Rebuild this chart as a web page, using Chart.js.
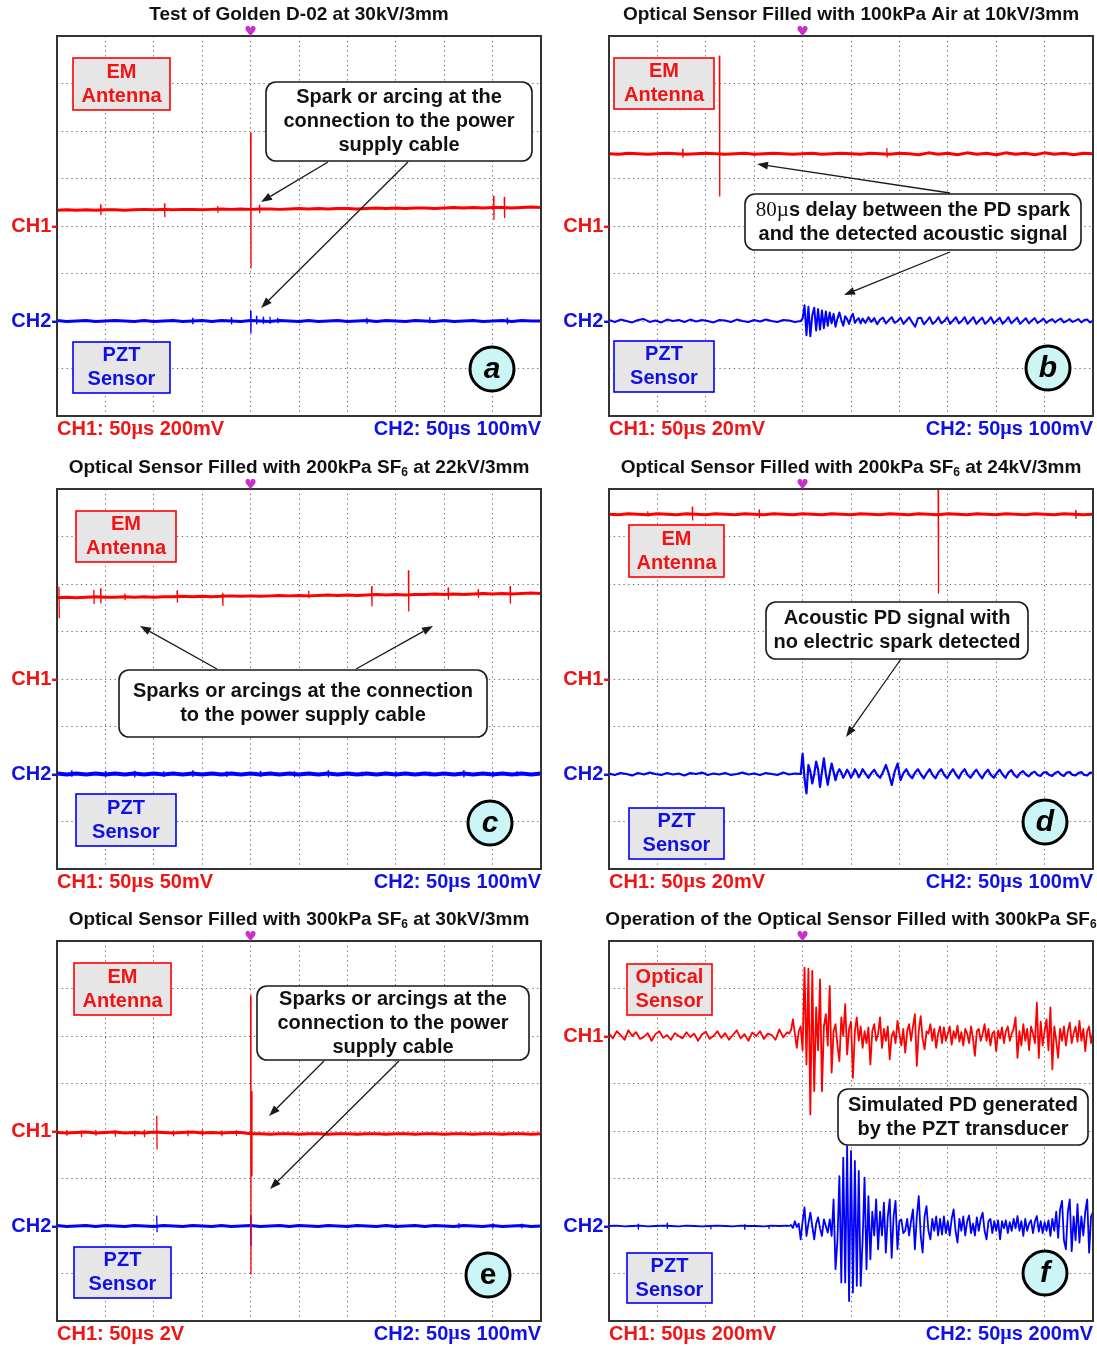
<!DOCTYPE html>
<html>
<head>
<meta charset="utf-8">
<script src="https://cdn.jsdelivr.net/npm/chart.js@4/dist/chart.umd.min.js"></script>
<style>
  body { margin: 0; background: #fff; width: 1097px; height: 1347px; overflow: hidden; position: relative; }
  canvas { position: absolute; }
</style>
</head>
<body>
<script>
// Six scope captures, 10 x 8 divisions each. Time axis in µs (50 µs/div, trigger at 0),
// trace values in screen divisions measured from each channel's ground marker.

// ---- a: Golden D-02 at 30kV/3mm ----
const aCh1Base = [0.33,0.34,0.33,0.34,0.33,0.34,0.34,0.33,0.34,0.35,
  0.34,0.35,0.34,0.35,0.35,0.34,0.35,0.36,0.35,0.36,
  0.35,0.36,0.36,0.35,0.36,0.37,0.36,0.37,0.36,0.37,
  0.37,0.36,0.37,0.38,0.37,0.38,0.37,0.38,0.38,0.37,
  0.38,0.39,0.38,0.39,0.38,0.39,0.39,0.38,0.39,0.40,0.39];
const aCh1Spikes = [[-155,0.45,0.24],[-89,0.47,0.2],[-34,0.42,0.28],[0,1.96,-0.88],[9,0.44,0.28],[251,0.63,0.14],[262,0.6,0.18]];
const aCh2Base = [0.01,-0.01,0.0,0.01,-0.01,0.0,0.01,0.0,-0.01,0.01,
  -0.01,0.0,0.01,-0.01,0.0,0.01,-0.01,0.01,0.0,-0.01,
  0.01,0.0,-0.01,0.01,0.0,-0.01,0.01,-0.01,0.0,0.01,
  -0.01,0.0,0.01,-0.01,0.01,0.0,-0.01,0.01,0.0,-0.01,
  0.01,-0.01,0.0,0.01,-0.01,0.0,0.01,-0.01,0.01,0.0,0.0];
const aCh2Spikes = [[-60,0.06,-0.06],[-20,0.07,-0.06],[0,0.21,-0.25],[6,0.1,-0.06],[13,0.08,-0.05],[20,0.09,-0.06],[28,0.07,-0.05],[120,0.07,-0.06],[185,0.08,-0.05],[265,0.06,-0.06]];

// ---- b: 100kPa air at 10kV/3mm ----
const bCh1Base = [1.52,1.51,1.53,1.52,1.51,1.52,1.53,1.52,1.51,1.52,
  1.53,1.52,1.51,1.52,1.53,1.51,1.52,1.53,1.52,1.51,
  1.52,1.53,1.51,1.52,1.53,1.52,1.51,1.53,1.52,1.51,
  1.53,1.52,1.50,1.54,1.51,1.53,1.50,1.54,1.51,1.53,
  1.50,1.54,1.51,1.53,1.50,1.54,1.51,1.53,1.50,1.53,1.52];
const bCh1Spikes = [[-124,1.62,1.45],[-86,3.58,0.63],[87,1.64,1.44]];
const bCh2Pre = [0.02,-0.02,0.03,0.0,-0.03,0.02,0.04,-0.02,0.01,-0.03,0.03,0.0,0.02,-0.02,0.03,-0.01,0.02,
  0.0,-0.03,0.02,0.01,-0.02,0.03,0.0,-0.02,0.02,-0.01,0.03,0.0,-0.02,0.02,0.01,-0.02,0.0];
const bCh2Onset = [0.05,0.33,-0.3,0.3,-0.32,0.12,0.28,-0.2,0.25,-0.18,0.22,-0.15,0.2,-0.1,0.18,-0.05,
  0.15,-0.12,0.05,0.18,0.02,-0.1,0.1,0.04,-0.06,0.08,0.15,-0.04,0.02,0.06,-0.05];
const bCh2Tail = [0.05,-0.04,0.08,-0.02,0.06,-0.07,0.03,0.07,-0.05,0.02,0.08,-0.04,0.0,
  0.07,-0.06,0.01,0.08,-0.03,-0.12,0.06,0.07,-0.07,0.0,0.08,-0.06,-0.01,0.08,-0.05,0.0,
  0.08,-0.06,0.01,0.08,-0.05,0.0,0.08,-0.06,0.01,0.08,-0.06,0.01,0.07,-0.06,0.0,0.08,-0.05,
  0.01,0.07,-0.06,0.0,0.08,-0.05,0.01,0.07,-0.06,0.0,0.06,-0.05,0.01,0.06,-0.04,0.0,0.05,
  -0.04,0.01,0.04,-0.03,0.02,0.05,-0.03,0.0,0.04,-0.02,0.01,0.04,-0.03,0.02,0.03,-0.03,0.01];

// ---- c: 200kPa SF6 at 22kV/3mm ----
const cCh1Base = [1.71,1.72,1.71,1.72,1.73,1.72,1.72,1.73,1.72,1.73,
  1.72,1.73,1.73,1.74,1.73,1.74,1.73,1.74,1.75,1.74,
  1.75,1.74,1.75,1.76,1.75,1.76,1.75,1.76,1.77,1.76,
  1.77,1.76,1.77,1.78,1.77,1.78,1.77,1.78,1.78,1.79,
  1.78,1.79,1.78,1.79,1.80,1.79,1.80,1.79,1.80,1.81,1.80];
const cCh1Spikes = [[-198,1.94,1.28],[-162,1.88,1.58],[-155,1.9,1.6],[-130,1.8,1.66],[-76,1.86,1.62],[-29,1.8,1.55],
  [60,1.86,1.7],[125,1.95,1.54],[163,2.28,1.43],[204,1.92,1.68],[235,1.88,1.72],[268,1.95,1.6]];
const cCh2Base = [0.01,-0.01,0.01,-0.01,0.01,-0.01,0.01,-0.01,0.01,-0.01,
  0.01,-0.01,0.01,-0.01,0.01,-0.01,0.01,-0.01,0.01,-0.01,
  0.01,-0.01,0.01,-0.01,0.01,-0.01,0.01,-0.01,0.01,-0.01,
  0.01,-0.01,0.01,-0.01,0.01,-0.01,0.01,-0.01,0.01,-0.01,
  0.01,-0.01,0.01,-0.01,0.01,-0.01,0.01,-0.01,0.01,-0.01,0.01];
const cCh2Spikes = [[-185,0.07,-0.05],[-150,0.06,-0.05],[-120,0.06,-0.06],[-90,0.05,-0.05],[-60,0.07,-0.05],[-25,0.05,-0.05],
  [10,0.06,-0.05],[45,0.05,-0.05],[80,0.07,-0.06],[115,0.05,-0.05],[150,0.06,-0.05],[185,0.05,-0.05],[220,0.07,-0.06],[250,0.05,-0.05],[275,0.06,-0.05]];

// ---- d: 200kPa SF6 at 24kV/3mm ----
const dCh1Base = [3.47,3.46,3.48,3.47,3.46,3.48,3.47,3.46,3.48,3.47,
  3.46,3.48,3.47,3.46,3.48,3.47,3.46,3.48,3.47,3.46,
  3.48,3.47,3.46,3.48,3.47,3.46,3.48,3.47,3.46,3.48,
  3.47,3.46,3.48,3.47,3.46,3.48,3.47,3.46,3.48,3.47,
  3.46,3.48,3.47,3.46,3.48,3.47,3.46,3.48,3.47,3.46,3.47];
const dCh1Spikes = [[-160,3.53,3.42],[-114,3.62,3.35],[-45,3.56,3.4],[140,4.1,1.81],[282,3.55,3.38]];
const dCh2Pre = [0.01,-0.02,0.02,0.0,-0.03,0.02,-0.01,0.03,0.0,-0.02,0.02,-0.01,0.01,-0.03,0.02,0.0,0.03,
  -0.02,0.01,-0.01,0.02,-0.02,0.0,0.03,-0.01,0.01,-0.02,0.02,0.0,-0.02,0.03,-0.01,0.01,0.0];
const dCh2Onset = [0.43,-0.1,-0.41,0.19,0.05,-0.2,0.0,0.26,0.1,-0.27,0.05,0.33,0.0,-0.23,0.02,0.22,
  0.05,-0.13,0.02,0.1,0.03,-0.08,0.0,0.09,0.02,-0.08,0.0,0.1,0.03,-0.07,0.0];
const dCh2Tail = [0.1,0.01,-0.08,0.02,0.09,-0.02,-0.08,0.04,0.19,0.0,-0.23,0.05,0.22,
  -0.13,0.02,0.1,-0.02,-0.09,0.03,0.1,-0.01,-0.09,0.02,0.1,-0.02,-0.09,0.03,0.1,-0.02,
  -0.09,0.02,0.1,-0.01,-0.09,0.03,0.1,-0.02,-0.08,0.02,0.09,-0.01,-0.09,0.02,0.09,-0.02,-0.08,
  0.02,0.09,-0.01,-0.08,0.03,0.08,-0.02,-0.07,0.02,0.06,-0.01,-0.05,0.02,0.05,-0.02,-0.04,0.03,
  0.04,-0.02,-0.04,0.02,0.05,-0.01,-0.04,0.03,0.04,-0.02,-0.03,0.02,0.04,-0.02,-0.03,0.03,0.02];

// ---- e: 300kPa SF6 at 30kV/3mm ----
const eCh1Base = [-0.03,-0.04,-0.03,-0.02,-0.04,-0.03,-0.02,-0.04,-0.03,-0.04,
  -0.02,-0.03,-0.04,-0.03,-0.02,-0.04,-0.03,-0.04,-0.03,-0.03,
  -0.06,-0.06,-0.07,-0.06,-0.06,-0.07,-0.06,-0.06,-0.07,-0.06,
  -0.06,-0.07,-0.06,-0.06,-0.07,-0.06,-0.06,-0.07,-0.06,-0.06,
  -0.07,-0.06,-0.06,-0.07,-0.06,-0.06,-0.07,-0.06,-0.06,-0.07,-0.06];
const eCh1Spikes = [[-190,0.02,-0.1],[-175,0.0,-0.12],[-160,0.02,-0.1],[-140,0.01,-0.11],[-120,0.0,-0.1],
  [-110,0.02,-0.12],[-97,0.32,-0.39],[-80,0.0,-0.1],[-65,0.01,-0.11],[-50,0.02,-0.1],[-30,0.0,-0.1],
  [-15,0.01,-0.09],[0,2.85,-3.01],[1,0.83,-0.94]];
const eCh2Base = [0.01,-0.01,0.0,0.01,-0.01,0.01,0.0,-0.01,0.01,0.0,
  -0.01,0.01,0.0,-0.01,0.01,0.0,-0.01,0.01,-0.01,0.0,
  0.01,-0.01,0.0,0.01,-0.01,0.01,0.0,-0.01,0.01,0.0,
  -0.01,0.01,0.0,-0.01,0.01,-0.01,0.0,0.01,-0.01,0.01,
  0.0,-0.01,0.01,0.0,-0.01,0.01,-0.01,0.0,0.01,-0.01,0.0];
const eCh2Spikes = [[-97,0.22,-0.13],[0,0.22,-0.41],[150,0.05,-0.04],[215,0.06,-0.05],[250,0.05,-0.04],[280,0.05,-0.05]];

// ---- f: optical sensor against the PZT transducer ----
const fCh1Pre = [0.05,-0.05,0.1,0.02,-0.08,0.12,0.0,0.08,-0.06,-0.02,
  0.06,-0.1,0.04,0.1,-0.04,0.02,-0.08,0.06,0.0,-0.05,
  0.08,-0.02,0.05,-0.1,0.03,0.09,-0.06,0.0,0.1,-0.04,
  0.06,-0.08,0.02,0.12,-0.05,0.04,-0.1,0.07,0.0,0.1,
  -0.06,0.05,0.02,-0.08,0.14,-0.03,0.08];
const fCh1Burst = [0.05,0.12,0.35,0.05,-0.25,0.1,0.2,-0.3,1.44,-0.6,
  1.42,-1.65,1.37,-1.16,0.6,-0.3,1.19,-1.16,0.2,0.46,
  -0.2,1.05,-0.77,0.1,0.25,-0.2,-0.53,0.39,0.0,0.67,
  -0.39,0.15,0.3,-0.88,0.1,0.39,-0.1,0.2,-0.25,0.1,
  -0.15,0.18,-0.6,0.1,0.25,-0.1,0.05,0.39,-0.25,0.15,
  -0.1,0.2,-0.49,0.0,0.1,-0.15,0.32,0.05,-0.2,0.15,
  -0.35,0.1,0.25,-0.1,0.2,0.46,-0.63,0.1,0.42,-0.05,
  -0.28,0.1,0.05,0.25,-0.1,0.15,-0.25,0.05,0.2,-0.15,
  0.18,-0.1,0.05,0.2,-0.18,0.1,-0.05,0.22,-0.12,0.08,
  -0.2,0.15,0.05,-0.15,0.2,-0.05,-0.42,0.1,0.15,-0.1,
  0.05,0.25,-0.1,0.15,-0.2,0.05,0.1,-0.32,0.12,-0.05,
  0.18,-0.15,0.1,0.2,-0.1,0.05,0.15,0.39,-0.46,0.1,
  -0.2,0.25,-0.1,0.15,-0.3,0.2,0.05,-0.15,0.7,-0.46,
  0.3,-0.2,0.1,0.35,-0.3,0.6,-0.7,0.2,-0.1,-0.46,
  0.15,-0.1,0.2,-0.2,0.1,0.28,-0.15,0.05,0.2,-0.12,
  0.32,-0.1,0.15,-0.32,0.1,0.2,-0.15,0.1];
const fCh2Pre = [0.0,0.01,-0.01,0.0,0.01,-0.01,0.0,0.01,0.0,-0.01,0.01,0.0,
  -0.01,0.0,0.01,0.0,-0.01,0.01,0.0,0.0,-0.01,0.01,0.0,0.01];
const fCh2Spikes = [[-170,0.04,-0.07],[-140,0.06,-0.05],[-95,0.02,-0.07],[-60,0.03,-0.07],[-35,0.02,-0.06]];
const fCh2Burst = [0.0,0.02,-0.04,0.1,-0.02,0.05,-0.28,0.1,0.39,-0.21,
  0.05,0.28,0.0,-0.28,0.05,0.18,-0.05,-0.21,0.14,0.0,
  -0.14,0.14,-0.21,0.56,-0.91,-0.3,1.05,-1.19,1.44,-1.19,
  1.68,-1.58,1.58,-1.4,1.37,-1.26,1.16,-1.26,-0.3,1.02,
  -0.91,0.63,-0.7,0.3,-0.2,0.56,-0.49,0.3,-0.2,0.49,
  -0.56,0.2,0.56,-0.67,0.2,0.53,-0.49,0.1,0.14,-0.15,
  -0.1,0.15,-0.2,0.1,0.35,-0.49,0.2,0.63,-0.2,-0.56,
  0.2,0.42,-0.1,-0.28,0.15,-0.1,0.2,-0.2,0.15,-0.18,
  0.2,-0.15,0.1,-0.2,0.15,0.35,-0.1,-0.35,0.15,-0.1,
  0.2,-0.2,0.1,0.22,-0.15,0.05,-0.2,0.18,-0.1,0.15,
  0.28,-0.1,-0.28,0.1,0.15,-0.15,0.1,-0.1,0.12,-0.28,
  0.1,-0.05,0.12,-0.15,0.08,-0.1,0.15,-0.05,0.21,-0.1,
  0.1,-0.21,0.15,-0.1,0.05,0.12,-0.15,0.1,0.21,-0.12,
  0.1,-0.15,0.08,-0.1,0.12,-0.21,0.15,-0.1,0.3,-0.25,
  0.35,0.53,-0.3,-0.49,0.3,0.56,-0.53,0.2,-0.3,0.46,
  -0.35,0.2,-0.2,0.3,0.56,-0.56,0.2,0.3];

const RED = '#ff0000', BLUE = '#0000ff';
const RED_TXT = '#f01414', BLUE_TXT = '#1010e6';
const SANS = '"Liberation Sans", Arial, sans-serif';
const MU = { t: 'µ', font: 'bold 20px "Liberation Serif", serif' };
const SUB6 = { t: '6', font: 'bold 12px ' + SANS, dy: 5 };

// evenly sampled stretch of a trace between t0 and t1
function sampled(t0, t1, vals, off) {
  const dt = (t1 - t0) / (vals.length - 1);
  return vals.map((v, i) => ({ x: t0 + i * dt, y: off + v }));
}
// single-sample glitches: [time, high, low]
function spikes(list, off) {
  const pts = [];
  list.forEach(([t, hi, lo]) => {
    pts.push({ x: t, y: off + hi }, { x: t + 0.4, y: off + lo }, { x: t + 0.4, y: null });
  });
  return pts;
}
function trace(data, color, width) {
  return { data, borderColor: color, borderWidth: width, pointRadius: 0, tension: 0,
           borderJoinStyle: 'round', spanGaps: false, fill: false };
}

const panels = [
  { id: 'pa', left: 0, top: 0, w: 548, h: 452, pad: { left: 57, top: 36, right: 7, bottom: 36 },
    title: ['Test of Golden D-02 at 30kV/3mm'], ch1Off: 0, ch2Off: -2,
    datasets: [trace(spikes(aCh1Spikes, 0), RED, 1.3), trace(sampled(-200, 300, aCh1Base, 0), RED, 3),
               trace(spikes(aCh2Spikes, -2), BLUE, 1.3), trace(sampled(-200, 300, aCh2Base, -2), BLUE, 3)],
    scale1: ['CH1: 50', MU, 's 200mV'], scale2: ['CH2: 50', MU, 's 100mV'],
    box1: { x: 16, y: 22, w: 97, h: 52, lines: ['EM', 'Antenna'] },
    box2: { x: 16, y: 306, w: 97, h: 51, lines: ['PZT', 'Sensor'] },
    callout: { x: 209, y: 46, w: 266, h: 79, lines: [['Spark or arcing at the'], ['connection to the power'], ['supply cable']] },
    arrows: [[271, 126, 204, 166], [351, 126, 204, 272]],
    letter: { x: 435, y: 333, ch: 'a', italic: true } },
  { id: 'pb', left: 550, top: 0, w: 547, h: 452, pad: { left: 59, top: 36, right: 4, bottom: 36 },
    title: ['Optical Sensor Filled with 100kPa Air at 10kV/3mm'], ch1Off: 0, ch2Off: -2,
    datasets: [trace(spikes(bCh1Spikes, 0), RED, 1.3), trace(sampled(-200, 300, bCh1Base, 0), RED, 3),
               trace([...sampled(-200, -2, bCh2Pre, -2), ...sampled(0, 60, bCh2Onset, -2), ...sampled(62, 300, bCh2Tail, -2)], BLUE, 2)],
    scale1: ['CH1: 50', MU, 's 20mV'], scale2: ['CH2: 50', MU, 's 100mV'],
    box1: { x: 5, y: 22, w: 100, h: 51, lines: ['EM', 'Antenna'] },
    box2: { x: 5, y: 305, w: 100, h: 51, lines: ['PZT', 'Sensor'] },
    callout: { x: 136, y: 158, w: 336, h: 56,
      lines: [[{ t: '80µ', font: '21px "Liberation Serif", serif' }, 's delay between the PD spark'], ['and the detected acoustic signal']] },
    arrows: [[341, 157, 148, 128], [341, 216, 235, 259]],
    letter: { x: 439, y: 332, ch: 'b', italic: true } },
  { id: 'pc', left: 0, top: 453, w: 548, h: 452, pad: { left: 57, top: 36, right: 7, bottom: 36 },
    title: ['Optical Sensor Filled with 200kPa SF', SUB6, ' at 22kV/3mm'], ch1Off: 0, ch2Off: -2,
    datasets: [trace(spikes(cCh1Spikes, 0), RED, 1.3), trace(sampled(-200, 300, cCh1Base, 0), RED, 3),
               trace(spikes(cCh2Spikes, -2), BLUE, 1.3), trace(sampled(-200, 300, cCh2Base, -2), BLUE, 4)],
    scale1: ['CH1: 50', MU, 's 50mV'], scale2: ['CH2: 50', MU, 's 100mV'],
    box1: { x: 19, y: 22, w: 100, h: 51, lines: ['EM', 'Antenna'] },
    box2: { x: 19, y: 305, w: 100, h: 52, lines: ['PZT', 'Sensor'] },
    callout: { x: 62, y: 181, w: 368, h: 67, lines: [['Sparks or arcings at the connection'], ['to the power supply cable']] },
    arrows: [[160, 180, 83, 137], [299, 180, 376, 137]],
    letter: { x: 433, y: 334, ch: 'c', italic: true } },
  { id: 'pd', left: 550, top: 453, w: 547, h: 452, pad: { left: 59, top: 36, right: 4, bottom: 36 },
    title: ['Optical Sensor Filled with 200kPa SF', SUB6, ' at 24kV/3mm'], ch1Off: 0, ch2Off: -2,
    datasets: [trace(spikes(dCh1Spikes, 0), RED, 1.3), trace(sampled(-200, 300, dCh1Base, 0), RED, 3),
               trace([...sampled(-200, -2, dCh2Pre, -2), ...sampled(0, 60, dCh2Onset, -2), ...sampled(62, 300, dCh2Tail, -2)], BLUE, 2.2)],
    scale1: ['CH1: 50', MU, 's 20mV'], scale2: ['CH2: 50', MU, 's 100mV'],
    box1: { x: 20, y: 36, w: 95, h: 52, lines: ['EM', 'Antenna'] },
    box2: { x: 20, y: 319, w: 95, h: 51, lines: ['PZT', 'Sensor'] },
    callout: { x: 157, y: 113, w: 262, h: 57, lines: [['Acoustic PD signal with'], ['no electric spark detected']] },
    arrows: [[292, 170, 237, 248]],
    letter: { x: 436, y: 333, ch: 'd', italic: true } },
  { id: 'pe', left: 0, top: 905, w: 548, h: 442, pad: { left: 57, top: 36, right: 7, bottom: 26 },
    title: ['Optical Sensor Filled with 300kPa SF', SUB6, ' at 30kV/3mm'], ch1Off: 0, ch2Off: -2,
    datasets: [trace(spikes(eCh1Spikes, 0), RED, 1.3), trace(sampled(-200, 300, eCh1Base, 0), RED, 3),
               trace(spikes(eCh2Spikes, -2), BLUE, 1.3), trace(sampled(-200, 300, eCh2Base, -2), BLUE, 3)],
    scale1: ['CH1: 50', MU, 's 2V'], scale2: ['CH2: 50', MU, 's 100mV'],
    box1: { x: 17, y: 22, w: 97, h: 52, lines: ['EM', 'Antenna'] },
    box2: { x: 17, y: 306, w: 97, h: 51, lines: ['PZT', 'Sensor'] },
    callout: { x: 200, y: 45, w: 272, h: 74, lines: [['Sparks or arcings at the'], ['connection to the power'], ['supply cable']] },
    arrows: [[267, 120, 212, 175], [342, 120, 213, 248]],
    letter: { x: 431, y: 334, ch: 'e', italic: false } },
  { id: 'pf', left: 550, top: 905, w: 547, h: 442, pad: { left: 59, top: 36, right: 4, bottom: 26 },
    title: ['Operation of the Optical Sensor Filled with 300kPa SF', SUB6], ch1Off: 2, ch2Off: -2,
    datasets: [trace([...sampled(-200, -16, fCh1Pre, 2), ...sampled(-14, 300, fCh1Burst, 2)], RED, 1.8),
               trace(spikes(fCh2Spikes, -2), BLUE, 1.3),
               trace([...sampled(-200, -16, fCh2Pre, -2), ...sampled(-14, 300, fCh2Burst, -2)], BLUE, 1.8)],
    scale1: ['CH1: 50', MU, 's 200mV'], scale2: ['CH2: 50', MU, 's 200mV'],
    box1: { x: 18, y: 23, w: 85, h: 51, lines: ['Optical', 'Sensor'] },
    box2: { x: 18, y: 312, w: 85, h: 50, lines: ['PZT', 'Sensor'] },
    callout: { x: 229, y: 148, w: 250, h: 56, lines: [['Simulated PD generated'], ['by the PZT transducer']] },
    arrows: [],
    letter: { x: 436, y: 332, ch: 'f', italic: true } }
];

const decorById = {};
panels.forEach(p => { decorById[p.id] = p; });

// text made of pieces: plain strings use the base font, objects may override font / shift baseline
function drawRich(ctx, pieces, x, y, align, font, color) {
  const parts = pieces.map(p => typeof p === 'string' ? { t: p, font, dy: 0 } : { t: p.t, font: p.font || font, dy: p.dy || 0 });
  let w = 0;
  parts.forEach(p => { ctx.font = p.font; p.w = ctx.measureText(p.t).width; w += p.w; });
  let cx = align === 'center' ? x - w / 2 : align === 'right' ? x - w : x;
  ctx.fillStyle = color;
  ctx.textAlign = 'left';
  ctx.textBaseline = 'middle';
  parts.forEach(p => { ctx.font = p.font; ctx.fillText(p.t, cx, y + p.dy); cx += p.w; });
}

function arrow(ctx, x1, y1, x2, y2) {
  const ang = Math.atan2(y2 - y1, x2 - x1), len = 11, half = 4;
  const bx = x2 - len * Math.cos(ang), by = y2 - len * Math.sin(ang);
  ctx.beginPath();
  ctx.moveTo(x1, y1);
  ctx.lineTo(bx, by);
  ctx.stroke();
  ctx.beginPath();
  ctx.moveTo(x2, y2);
  ctx.lineTo(bx + half * Math.sin(ang), by - half * Math.cos(ang));
  ctx.lineTo(bx - half * Math.sin(ang), by + half * Math.cos(ang));
  ctx.closePath();
  ctx.fill();
}

const scopeDecor = {
  id: 'scopeDecor',
  afterDatasetsDraw(chart) {
    const d = decorById[chart.canvas.id];
    const { ctx, chartArea: a, scales: { x, y } } = chart;
    const L = a.left, T = a.top;
    ctx.save();

    // channel name boxes
    [[d.box1, RED, RED_TXT], [d.box2, BLUE, BLUE_TXT]].forEach(([b, c, tc]) => {
      ctx.fillStyle = '#e6e6e6';
      ctx.fillRect(L + b.x, T + b.y, b.w, b.h);
      ctx.strokeStyle = c;
      ctx.lineWidth = 1.6;
      ctx.strokeRect(L + b.x, T + b.y, b.w, b.h);
      const cy = T + b.y + b.h / 2;
      drawRich(ctx, [b.lines[0]], L + b.x + b.w / 2, cy - 12, 'center', 'bold 20px ' + SANS, tc);
      drawRich(ctx, [b.lines[1]], L + b.x + b.w / 2, cy + 12, 'center', 'bold 20px ' + SANS, tc);
    });

    // callout and its arrows
    const co = d.callout;
    ctx.strokeStyle = '#1a1a1a';
    ctx.fillStyle = '#1a1a1a';
    ctx.lineWidth = 1.3;
    d.arrows.forEach(([x1, y1, x2, y2]) => arrow(ctx, L + x1, T + y1, L + x2, T + y2));
    ctx.beginPath();
    ctx.roundRect(L + co.x, T + co.y, co.w, co.h, 10);
    ctx.fillStyle = '#fff';
    ctx.fill();
    ctx.lineWidth = 1.6;
    ctx.stroke();
    const mid = T + co.y + co.h / 2;
    co.lines.forEach((ln, i) => {
      drawRich(ctx, ln, L + co.x + co.w / 2, mid + (i - (co.lines.length - 1) / 2) * 24, 'center', 'bold 20px ' + SANS, '#111');
    });

    // panel letter
    const lt = d.letter;
    ctx.beginPath();
    ctx.arc(L + lt.x, T + lt.y, 22, 0, Math.PI * 2);
    ctx.fillStyle = '#ccf6f6';
    ctx.fill();
    ctx.lineWidth = 3;
    ctx.strokeStyle = '#000';
    ctx.stroke();
    drawRich(ctx, [lt.ch], L + lt.x, T + lt.y + 1, 'center', (lt.italic ? 'italic ' : '') + 'bold 30px ' + SANS, '#000');

    // graticule frame
    ctx.lineWidth = 2;
    ctx.strokeStyle = '#333';
    ctx.strokeRect(a.left, a.top, a.right - a.left, a.bottom - a.top);

    // title, trigger mark, channel markers, scale readouts
    drawRich(ctx, d.title, (a.left + a.right) / 2, a.top - 21, 'center', 'bold 19px ' + SANS, '#111');
    ctx.fillStyle = '#cc30cc';
    ctx.font = '14px "DejaVu Sans", sans-serif';
    ctx.textAlign = 'center';
    ctx.textBaseline = 'bottom';
    ctx.fillText('♥', x.getPixelForValue(0), a.top + 3);
    drawRich(ctx, ['CH1-'], a.left + 1, y.getPixelForValue(d.ch1Off), 'right', 'bold 20px ' + SANS, RED_TXT);
    drawRich(ctx, ['CH2-'], a.left + 1, y.getPixelForValue(d.ch2Off), 'right', 'bold 20px ' + SANS, BLUE_TXT);
    drawRich(ctx, d.scale1, a.left, a.bottom + 13, 'left', 'bold 20px ' + SANS, RED_TXT);
    drawRich(ctx, d.scale2, a.right, a.bottom + 13, 'right', 'bold 20px ' + SANS, BLUE_TXT);
    ctx.restore();
  }
};

const gridStyle = { color: '#6e6e6e', lineWidth: 1, drawTicks: false };
const borderStyle = { display: false, dash: [1.3, 3.5] };

panels.forEach(p => {
  const cv = document.createElement('canvas');
  cv.id = p.id;
  cv.width = p.w;
  cv.height = p.h;
  cv.style.left = p.left + 'px';
  cv.style.top = p.top + 'px';
  document.body.appendChild(cv);

  new Chart(cv, {
    type: 'line',
    data: { datasets: p.datasets },
    options: {
      responsive: false,
      animation: false,
      events: [],
      layout: { padding: p.pad },
      plugins: { legend: { display: false }, tooltip: { enabled: false } },
      scales: {
        x: { type: 'linear', min: -200, max: 300, ticks: { display: false, stepSize: 50 }, grid: gridStyle, border: borderStyle },
        y: { type: 'linear', min: -4, max: 4, ticks: { display: false, stepSize: 1 }, grid: gridStyle, border: borderStyle }
      }
    },
    plugins: [scopeDecor]
  });
});
</script>
</body>
</html>
